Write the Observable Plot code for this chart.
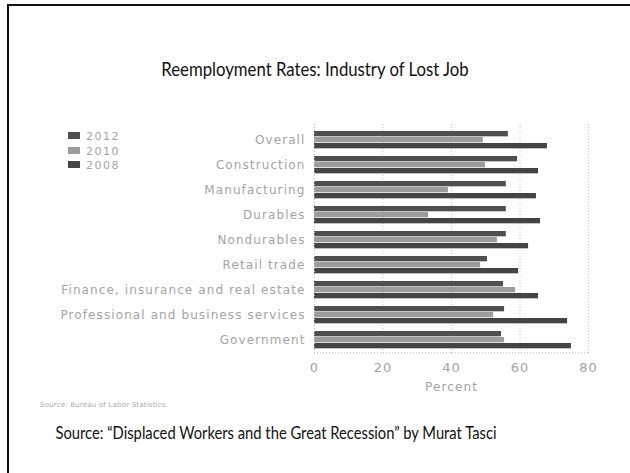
<!DOCTYPE html>
<html>
<head>
<meta charset="utf-8">
<script src="https://cdn.jsdelivr.net/npm/d3@7"></script>
<script src="https://cdn.jsdelivr.net/npm/@observablehq/plot@0.6"></script>
<style>
  html, body { margin: 0; padding: 0; background: #fff; }
  #page { position: relative; width: 630px; height: 473px; overflow: hidden; background: #fff; }
  .border-left { position: absolute; left: 7px; top: 4px; width: 2px; height: 469px; background: #111; }
  .border-top { position: absolute; left: 7px; top: 4px; width: 623px; height: 2px; background: #111; }
  #title { position: absolute; left: 0; width: 630px; top: 58px; text-align: center;
           font-family: Lato, "Open Sans", sans-serif; font-size: 18.6px; color: #111;
           transform: scaleX(0.9); transform-origin: 315px 0; }
  #caption { position: absolute; left: 0; width: 552px; top: 423px; text-align: center;
             font-family: Lato, "Open Sans", sans-serif; font-size: 16.4px; color: #111;
             transform: scaleX(0.9); transform-origin: 276px 0; }
  #src { position: absolute; left: 40px; top: 401px; font-family: "DejaVu Sans", sans-serif;
         font-size: 7px; color: #aaa; letter-spacing: 0.2px; }
  #legend { position: absolute; left: 68px; top: 130px; font-family: "DejaVu Sans", sans-serif;
            font-size: 11px; color: #a4a4a4; line-height: 14.5px; letter-spacing: 1.5px; }
  #legend .sw { display: inline-block; width: 12px; height: 7px; margin-right: 6px; vertical-align: 1px; }
  #chart { position: absolute; left: 0; top: 0; }
  #chart svg text { letter-spacing: 1.1px; }
</style>
</head>
<body>
<div id="page">
  <div class="border-left"></div>
  <div class="border-top"></div>
  <div id="title"></div>
  <div id="legend"></div>
  <div id="chart"></div>
  <div id="src"></div>
  <div id="caption"></div>
</div>
<script>
const titleText = "Reemployment Rates: Industry of Lost Job";
const captionText = "Source: \u201cDisplaced Workers and the Great Recession\u201d by Murat Tasci";
const sourceText = "Source: Bureau of Labor Statistics.";
const xLabel = "Percent";

const categories = [
  "Overall",
  "Construction",
  "Manufacturing",
  "Durables",
  "Nondurables",
  "Retail trade",
  "Finance, insurance and real estate",
  "Professional and business services",
  "Government"
];
const years = ["2012", "2010", "2008"];
const v2012 = [56.6, 59.3, 56.0, 56.0, 56.0, 50.5, 55.2, 55.5, 54.6];
const v2010 = [49.3, 49.9, 39.1, 33.3, 53.4, 48.5, 58.7, 52.3, 55.5];
const v2008 = [68.0, 65.4, 64.8, 66.0, 62.5, 59.6, 65.4, 73.9, 75.0];
const xTicks = [0, 20, 40, 60, 80];

const colors = {"2012": "#4f4f4f", "2010": "#9c9c9c", "2008": "#444444"};

document.getElementById("title").textContent = titleText;
document.getElementById("caption").textContent = captionText;
document.getElementById("src").textContent = sourceText;

const legend = document.getElementById("legend");
years.forEach(y => {
  const row = document.createElement("div");
  const sw = document.createElement("span");
  sw.className = "sw";
  sw.style.background = colors[y];
  row.appendChild(sw);
  row.appendChild(document.createTextNode(y));
  legend.appendChild(row);
});

const seriesVals = {"2012": v2012, "2010": v2010, "2008": v2008};
const rows = [];
categories.forEach((c, i) => years.forEach(y => rows.push({category: c, year: y, value: seriesVals[y][i]})));

// vertical placement of each year's bar within the category band
const insets = {"2012": [4, 15.67], "2010": [10, 9.67], "2008": [16, 3.67]};

const chart = Plot.plot({
  width: 630,
  height: 400,
  marginLeft: 314,
  marginRight: 42,
  marginTop: 124,
  marginBottom: 45,
  style: {fontFamily: "DejaVu Sans, sans-serif", fontSize: "12px", color: "#a4a4a4", background: "transparent"},
  x: {domain: [0, 80], ticks: xTicks, label: null},
  y: {domain: categories, padding: 0, label: null},
  marks: [
    Plot.ruleX(xTicks.slice(1), {stroke: "#c4c4c4", strokeDasharray: "1,2"}),
    ...years.map(y => Plot.barX(rows.filter(d => d.year === y), {
      x: "value", y: "category", fill: colors[y],
      insetTop: insets[y][0], insetBottom: insets[y][1]
    })),
    Plot.ruleX([0], {stroke: "#bdbdbd", strokeDasharray: "1,2"}),
    Plot.ruleY([categories[categories.length - 1]], {stroke: "#bdbdbd", strokeDasharray: "1,2", dy: 12.83}),
    Plot.axisX({ticks: xTicks, tickSize: 0, tickPadding: 7, fontSize: 13, label: null}),
    Plot.text([xLabel], {frameAnchor: "bottom", x: 40, dy: 27, fontSize: 12, fill: "#a4a4a4", lineAnchor: "top"}),
    Plot.axisY({tickSize: 0, tickPadding: 9, fontSize: 12, label: null})
  ]
});
document.getElementById("chart").appendChild(chart);
</script>
</body>
</html>
